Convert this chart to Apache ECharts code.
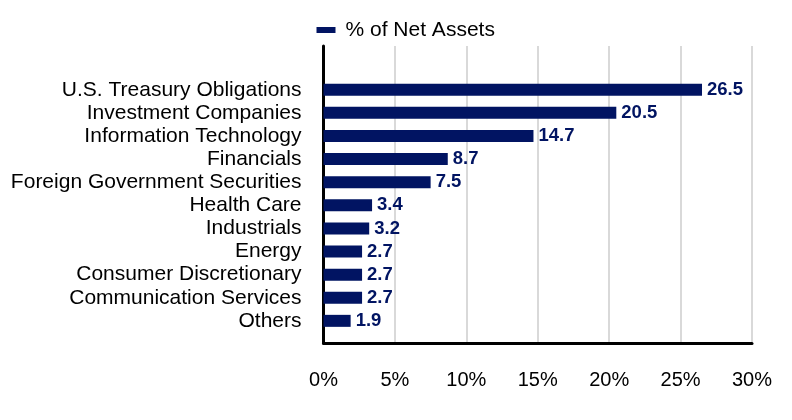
<!DOCTYPE html>
<html>
<head>
<meta charset="utf-8">
<script src="https://cdn.jsdelivr.net/npm/echarts@6/dist/echarts.min.js"></script>
<style>html,body{margin:0;padding:0;background:#fff}#c{width:792px;height:420px}</style>
</head>
<body>
<div id="c"></div>
<script>
const categories = ["U.S. Treasury Obligations","Investment Companies","Information Technology","Financials","Foreign Government Securities","Health Care","Industrials","Energy","Consumer Discretionary","Communication Services","Others"];
const values = [26.5,20.5,14.7,8.7,7.5,3.4,3.2,2.7,2.7,2.7,1.9];
const seriesName = "% of Net Assets";
const xTicks = {min:0, max:30, interval:5};

const FONT = "Arial, 'Liberation Sans', sans-serif";
const NAVY = "#011462";
const chart = echarts.init(document.getElementById('c'), null, {renderer:'canvas'});
chart.setOption({
  animation:false,
  textStyle:{fontFamily:FONT},
  legend:{
    data:[seriesName], left:311.5, top:14.5, icon:'rect', itemWidth:19, itemHeight:6,
    textStyle:{fontSize:21, color:'#000', fontFamily:FONT, padding:[0,0,0,5]}
  },
  grid:[
    {left:323.5, right:40, top:46, bottom:77},
    {left:323.5, right:40, top:78.2, bottom:87.6}
  ],
  xAxis:[
    {gridIndex:0, type:'value', min:xTicks.min, max:xTicks.max, interval:xTicks.interval,
     axisLine:{show:true, lineStyle:{color:'#000', width:3}},
     axisTick:{show:false},
     axisLabel:{formatter:'{value}%', fontSize:20, color:'#000', margin:27, fontFamily:FONT},
     splitLine:{show:true, lineStyle:{color:'#d9d9d9', width:2}}},
    {gridIndex:1, type:'value', min:xTicks.min, max:xTicks.max, show:false}
  ],
  yAxis:[
    {gridIndex:0, type:'value', min:0, max:1,
     axisLine:{show:true, lineStyle:{color:'#000', width:3}},
     axisTick:{show:false}, axisLabel:{show:false}, splitLine:{show:false}},
    {gridIndex:1, type:'category', inverse:true, data:categories,
     axisLine:{show:false}, axisTick:{show:false},
     axisLabel:{interval:0, fontSize:21, color:'#000', margin:22, fontFamily:FONT}}
  ],
  series:[{
    name:seriesName, type:'bar', xAxisIndex:1, yAxisIndex:1,
    data:values, barWidth:12,
    itemStyle:{color:NAVY},
    label:{show:true, position:'right', distance:5, color:NAVY, fontWeight:'bold', fontSize:18.5, fontFamily:FONT}
  }]
});
</script>
</body>
</html>
